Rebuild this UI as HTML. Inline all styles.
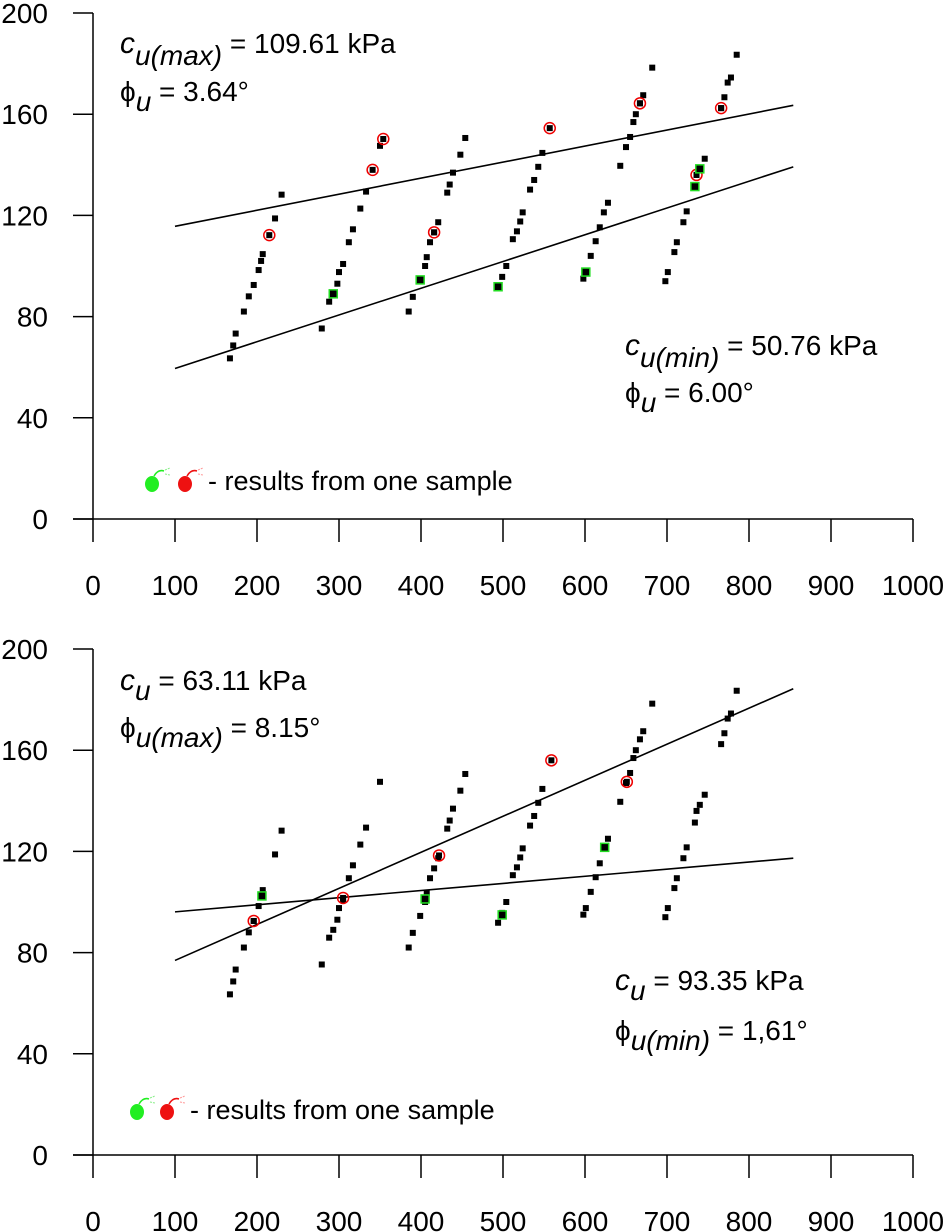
<!DOCTYPE html>
<html><head><meta charset="utf-8"><style>
body{margin:0;background:#fff}
svg{display:block;font-family:"Liberation Sans",Arial,sans-serif}
</style></head><body>
<svg id="s" width="947" height="1232" viewBox="0 0 947 1232"></svg>
<script>
const xTicks=[0,100,200,300,400,500,600,700,800,900,1000];
const yTicks=[0,40,80,120,160,200];
// black measurement points (shared by both panels)
const pointsX=[167,171,174,184,190,196,202,205,207,222,230,
 279,288,293,298,300,305,312,317,326,333,350,
 385,390,399,405,407,411,416,421,432,435,439,448,454,
 494,499,504,512,517,521,524,533,538,543,548,
 598,601,607,613,618,623,628,643,650,655,659,662,667,671,682,
 698,701,709,712,720,724,734,736,740,746,
 766,770,774,778,785];
const pointsY=[63.5,68.6,73.3,82,88,92.5,98.4,102,104.7,118.8,128.2,
 75.3,85.9,89,93,97.6,100.8,109.4,114.5,122.7,129.4,147.5,
 82,87.8,94.5,100,103.5,109.4,113.3,117.3,129,132.2,136.9,144,150.6,
 91.8,95.7,100,110.6,113.7,117.6,121.2,130.2,134,139.2,144.7,
 95,97.6,104,109.8,115.3,121.2,125,139.6,147,151,156.9,160,164.3,167.5,178.4,
 94,97.6,105.5,109.4,117.3,121.6,131.4,136,138.4,142.4,
 162.4,166.7,172.5,174.5,183.5];
// top panel
const topRedX=[215,341,354,416,557,667,736,766];
const topRedY=[112.2,138,150.2,113.3,154.5,164.3,136,162.4];
const topGreenX=[293,399,494,601,734,740];
const topGreenY=[89,94.5,91.8,97.6,131.4,138.4];
const lineX=[100,854];
const topUpperY=[115.7,163.5];
const topLowerY=[59.5,139.2];
// bottom panel
const botRedX=[196,305,422,559,651];
const botRedY=[92.5,101.6,118.4,156,147.5];
const botGreenX=[206,405,499,624];
const botGreenY=[102.4,101.2,94.9,121.6];
const botSteepY=[76.9,184.3];
const botFlatY=[96.1,117.3];

const NS="http://www.w3.org/2000/svg";
const svg=document.getElementById('s');
function mk(tag,attrs,parent){const e=document.createElementNS(NS,tag);for(const k in attrs)e.setAttribute(k,attrs[k]);(parent||svg).appendChild(e);return e;}

function panel(y0,name,redX,redY,greenX,greenY,lines){
  const g=mk('g',{});
  
  
  const xs=v=>93+v*0.82, ys=v=>y0-v*2.53;
  const ax=mk('line',{x1:93,y1:ys(200),x2:93,y2:y0,stroke:'#000','stroke-width':1.5},g);
  
  
  const bx=mk('line',{x1:73,y1:y0,x2:xs(1000),y2:y0,stroke:'#000','stroke-width':1.5},g);
  
  
  yTicks.forEach(t=>{
    mk('line',{x1:73,y1:ys(t),x2:93,y2:ys(t),stroke:'#000','stroke-width':1.5},g);
    const tx=mk('text',{x:48,y:ys(t)+10,'text-anchor':'end','font-size':28},g);tx.textContent=t;
    
    
  });
  xTicks.forEach(t=>{
    mk('line',{x1:xs(t),y1:y0,x2:xs(t),y2:y0+23,stroke:'#000','stroke-width':1.5},g);
    const tx=mk('text',{x:xs(t),y:y0+76,'text-anchor':'middle','font-size':28},g);tx.textContent=t;
    
    
  });
  lines.forEach(l=>{
    const ln=mk('line',{x1:xs(lineX[0]),y1:ys(l[0]),x2:xs(lineX[1]),y2:ys(l[1]),stroke:'#000','stroke-width':1.6},g);
    
    
  });
  pointsX.forEach((x,i)=>{
    const p=mk('rect',{x:xs(x)-3,y:ys(pointsY[i])-3,width:6,height:6,fill:'#000'},g);
    
    
  });
  redX.forEach((x,i)=>{
    mk('rect',{x:xs(x)-3,y:ys(redY[i])-3,width:6,height:6,fill:'#000'},g);
    const c=mk('circle',{cx:xs(x),cy:ys(redY[i]),r:5.5,fill:'none',stroke:'#e00','stroke-width':1.5},g);
    
    
  });
  greenX.forEach((x,i)=>{
    const c=mk('rect',{x:xs(x)-4,y:ys(greenY[i])-4,width:8,height:8,fill:'#000',stroke:'#2d2','stroke-width':1.5},g);
    
    
  });
}
panel(519,'top-panel',topRedX,topRedY,topGreenX,topGreenY,[topUpperY,topLowerY]);
panel(1155,'bottom-panel',botRedX,botRedY,botGreenX,botGreenY,[botSteepY,botFlatY]);
</script>
<svg width="947" height="1232" style="position:absolute;left:0;top:0" font-family="Liberation Sans, Arial, sans-serif" font-size="28">
  <g>
    <text x="120" y="53"><tspan font-style="italic" font-size="30">c</tspan><tspan font-style="italic" dy="12">u(max)</tspan><tspan dy="-12"> = 109.61 kPa</tspan></text>
    <text x="120" y="101">ϕ<tspan font-style="italic" dy="10">u</tspan><tspan dy="-10"> = 3.64°</tspan></text>
  </g>
  <g>
    <text x="625" y="355"><tspan font-style="italic" font-size="30">c</tspan><tspan font-style="italic" dy="12">u(min)</tspan><tspan dy="-12"> = 50.76 kPa</tspan></text>
    <text x="625" y="402">ϕ<tspan font-style="italic" dy="10">u</tspan><tspan dy="-10"> = 6.00°</tspan></text>
  </g>
  <g>
    <text x="120" y="690"><tspan font-style="italic" font-size="30">c</tspan><tspan font-style="italic" dy="10">u</tspan><tspan dy="-10"> = 63.11 kPa</tspan></text>
    <text x="120" y="737">ϕ<tspan font-style="italic" dy="10">u(max)</tspan><tspan dy="-10"> = 8.15°</tspan></text>
  </g>
  <g>
    <text x="615" y="990"><tspan font-style="italic" font-size="30">c</tspan><tspan font-style="italic" dy="10">u</tspan><tspan dy="-10"> = 93.35 kPa</tspan></text>
    <text x="615" y="1040">ϕ<tspan font-style="italic" dy="10">u(min)</tspan><tspan dy="-10"> = 1,61°</tspan></text>
  </g>
  <g font-size="27">
    <ellipse cx="152" cy="484" rx="7" ry="8" fill="#2e2"/><path d="M154 476 q4 -7 10 -5" stroke="#2e2" fill="none" stroke-width="1.5"/><path d="M165 470 l5 -2 M165 474 l5 1" stroke="#8e8" stroke-width="1" stroke-dasharray="2,1"/>
    <ellipse cx="185" cy="484" rx="7" ry="8" fill="#e11"/><path d="M187 476 q4 -7 10 -5" stroke="#e11" fill="none" stroke-width="1.5"/><path d="M198 470 l5 -2 M198 474 l5 1" stroke="#f99" stroke-width="1" stroke-dasharray="2,1"/>
    <text x="208" y="490">- results from one sample</text>
  </g>
  <g font-size="27">
    <ellipse cx="137" cy="1112" rx="7" ry="8" fill="#2e2"/><path d="M139 1104 q4 -7 10 -5" stroke="#2e2" fill="none" stroke-width="1.5"/><path d="M150 1098 l5 -2 M150 1102 l5 1" stroke="#8e8" stroke-width="1" stroke-dasharray="2,1"/>
    <ellipse cx="167" cy="1112" rx="7" ry="8" fill="#e11"/><path d="M169 1104 q4 -7 10 -5" stroke="#e11" fill="none" stroke-width="1.5"/><path d="M180 1098 l5 -2 M180 1102 l5 1" stroke="#f99" stroke-width="1" stroke-dasharray="2,1"/>
    <text x="190" y="1119">- results from one sample</text>
  </g>
</svg>
</body></html>
